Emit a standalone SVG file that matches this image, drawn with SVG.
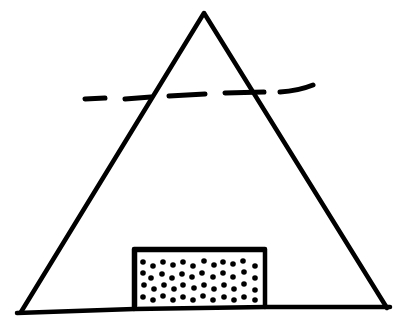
<svg xmlns="http://www.w3.org/2000/svg" width="396" height="326" viewBox="0 0 396 326">
<style>
.ln{fill:none;stroke:#000;stroke-width:4.5;stroke-linecap:round;stroke-linejoin:round}
.ds{fill:none;stroke:#000;stroke-width:5;stroke-linecap:round}
.dt{fill:#000}
</style>
<rect width="396" height="326" fill="#fff"/>
<g id="triangle">
<path class="ln" d="M21,312 L204,13 L387,308"/>
<path class="ln" d="M17,313 L134,309 L266,307 L390,307"/>
</g>
<g id="box">
<path class="ln" stroke-width="3.5" d="M134,309 L134,249 L265,249 L265,307"/>
<path class="ln" stroke-width="5" d="M135,250 L264,250"/>
<path class="ln" stroke-width="4.5" d="M135,252 L135,306"/>
<g class="dt">
<circle cx="143" cy="262" r="2.8"/><circle cx="153" cy="266" r="2.8"/><circle cx="163" cy="262" r="2.8"/><circle cx="173" cy="265" r="2.8"/><circle cx="183" cy="262" r="2.8"/><circle cx="193" cy="266" r="2.8"/><circle cx="204" cy="261" r="2.8"/><circle cx="214" cy="265" r="2.8"/><circle cx="223" cy="262" r="2.8"/><circle cx="233" cy="264" r="2.8"/><circle cx="243" cy="261" r="2.8"/><circle cx="255" cy="266" r="2.8"/>
<circle cx="143" cy="273" r="2.8"/><circle cx="151" cy="278" r="2.8"/><circle cx="162" cy="274" r="2.8"/><circle cx="172" cy="278" r="2.8"/><circle cx="182" cy="274" r="2.8"/><circle cx="192" cy="277" r="2.8"/><circle cx="202" cy="273" r="2.8"/><circle cx="213" cy="277" r="2.8"/><circle cx="223" cy="273" r="2.8"/><circle cx="233" cy="277" r="2.8"/><circle cx="244" cy="272" r="2.8"/><circle cx="255" cy="278" r="2.8"/>
<circle cx="144" cy="285" r="2.8"/><circle cx="154" cy="289" r="2.8"/><circle cx="164" cy="285" r="2.8"/><circle cx="174" cy="289" r="2.8"/><circle cx="183" cy="285" r="2.8"/><circle cx="194" cy="288" r="2.8"/><circle cx="204" cy="285" r="2.8"/><circle cx="214" cy="289" r="2.8"/><circle cx="224" cy="285" r="2.8"/><circle cx="234" cy="289" r="2.8"/><circle cx="244" cy="284" r="2.8"/><circle cx="255" cy="290" r="2.8"/>
<circle cx="143" cy="297" r="2.8"/><circle cx="153" cy="300" r="2.8"/><circle cx="163" cy="296" r="2.8"/><circle cx="173" cy="300" r="2.8"/><circle cx="183" cy="297" r="2.8"/><circle cx="193" cy="300" r="2.8"/><circle cx="203" cy="296" r="2.8"/><circle cx="213" cy="300" r="2.8"/><circle cx="224" cy="297" r="2.8"/><circle cx="234" cy="300" r="2.8"/><circle cx="244" cy="297" r="2.8"/><circle cx="255" cy="300" r="2.8"/>
</g>
</g>
<g id="connectors">
<path class="ds" d="M85,99 L105,98"/>
<path class="ds" d="M125,99 L151,97"/>
<path class="ds" d="M169,96 L205,94"/>
<path class="ds" d="M225,93 L264,92"/>
<path class="ds" d="M280,92 Q298,91 313,85"/>
</g>
</svg>
